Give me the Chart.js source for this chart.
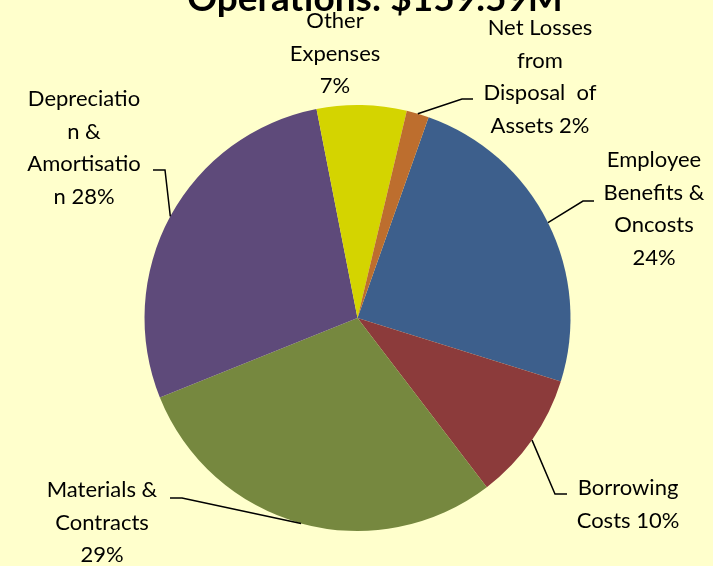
<!DOCTYPE html>
<html>
<head>
<meta charset="utf-8">
<script src="https://cdn.jsdelivr.net/npm/chart.js@4"></script>
<style>
  html, body { margin: 0; padding: 0; background: #FFFFCC; }
  #wrap { width: 713px; height: 566px; }
</style>
</head>
<body>
<div id="wrap"><canvas id="myChart" width="713" height="566"></canvas></div>
<script>
// data (share of total, %)
const categories = ['Employee Benefits & Oncosts', 'Borrowing Costs', 'Materials & Contracts',
                    'Depreciation & Amortisation', 'Other Expenses', 'Net Losses from Disposal of Assets'];
const shares = [24.4, 9.8, 29.3, 28.0, 6.8, 1.7];
const colours = ['#3D5F8C', '#8C3B3B', '#76883F', '#5E4A7A', '#D4D400', '#BD6E2E'];
const titleText = 'Operations: $159.59M';

// how each label is wrapped, {p} is the percentage
const labelLines = [
    ['Employee', 'Benefits &', 'Oncosts', '{p}'],
    ['Borrowing', 'Costs {p}'],
    ['Materials &', 'Contracts', '{p}'],
    ['Depreciatio', 'n &', 'Amortisatio', 'n {p}'],
    ['Other', 'Expenses', '{p}'],
    ['Net Losses', 'from', 'Disposal  of', 'Assets {p}']
];
// label placement: centre x, first baseline y
const labelPos = [[654, 167], [628, 495], [102, 497], [84, 106], [335, 28], [540, 35]];
// leader lines: elbow point then end point (null = no line)
const leaders = [
    [[583, 201], [594, 201]],
    [[555, 494], [567, 494]],
    [[182, 498], [170, 498]],
    [[165, 170], [153, 170]],
    null,
    [[462, 99], [473, 99]]
];

const total = shares.reduce((a, b) => a + b, 0);

const bgPlugin = {
    id: 'bg',
    beforeDraw(chart) {
        const c = chart.ctx;
        c.save();
        c.fillStyle = '#FFFFCC';
        c.fillRect(0, 0, chart.width, chart.height);
        c.restore();
    }
};

const labelPlugin = {
    id: 'labels',
    afterDraw(chart) {
        const c = chart.ctx;
        const arcs = chart.getDatasetMeta(0).data;
        c.save();
        // title, clipped at the top like the original
        c.fillStyle = '#000';
        c.font = "bold 37px Lato";
        c.textAlign = 'center';
        c.textBaseline = 'alphabetic';
        c.fillText(titleText, 375, 11);

        c.font = "22px Lato";
        c.strokeStyle = '#000';
        c.lineWidth = 1.5;
        arcs.forEach((arc, i) => {
            const pct = Math.round(shares[i] / total * 100) + '%';
            const [x, y] = labelPos[i];
            labelLines[i].forEach((ln, k) => {
                c.fillText(ln.replace('{p}', pct), x, y + k * 32.5);
            });
            if (leaders[i]) {
                const p = arc.getProps(['x', 'y', 'startAngle', 'endAngle', 'outerRadius'], true);
                const mid = (p.startAngle + p.endAngle) / 2;
                c.beginPath();
                c.moveTo(p.x + Math.cos(mid) * p.outerRadius, p.y + Math.sin(mid) * p.outerRadius);
                c.lineTo(leaders[i][0][0], leaders[i][0][1]);
                c.lineTo(leaders[i][1][0], leaders[i][1][1]);
                c.stroke();
            }
        });
        c.restore();
    }
};

new Chart(document.getElementById('myChart').getContext('2d'), {
    type: 'pie',
    data: {
        labels: categories,
        datasets: [{
            data: shares,
            backgroundColor: colours,
            borderWidth: 0
        }]
    },
    options: {
        responsive: false,
        animation: false,
        rotation: 19.5,
        layout: { padding: { top: 105, bottom: 35, left: 2, right: 0 } },
        plugins: {
            legend: { display: false },
            tooltip: { enabled: false }
        }
    },
    plugins: [bgPlugin, labelPlugin]
});
</script>
</body>
</html>
